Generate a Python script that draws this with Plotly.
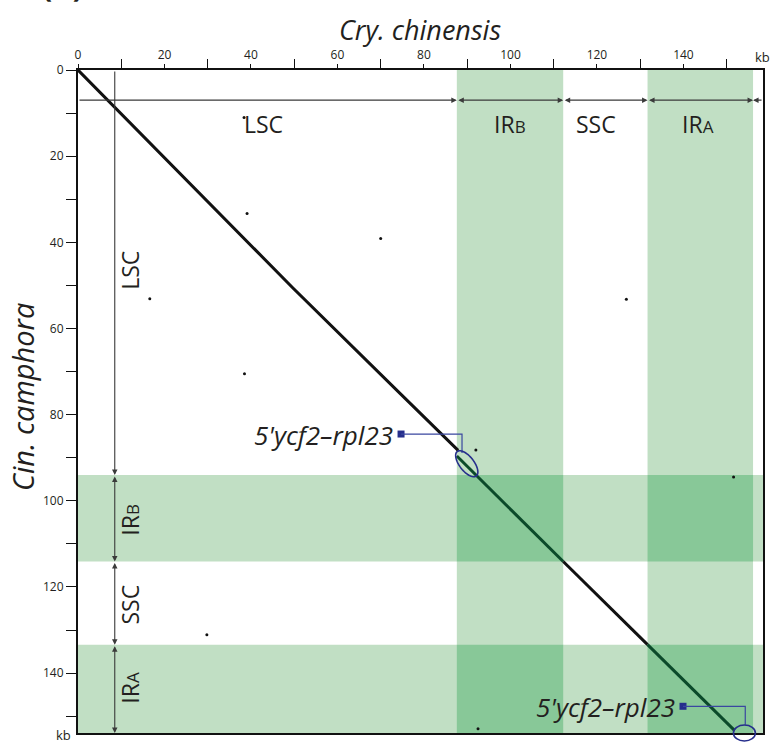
import numpy as np
import plotly.graph_objects as go

# ---------------- data ----------------
# region boundaries (kb)
x_region_names = ["LSC", "IRB", "SSC", "IRA"]
x_bounds = [0, 87.6, 112.2, 131.7, 156.1, 158.4]   # Cry. chinensis
y_region_names = ["LSC", "IRB", "SSC", "IRA"]
y_bounds = [0, 94.0, 114.1, 133.4, 153.9]          # Cin. camphora

# diagonal alignment segments (x kb, y kb) and their colours
seg1_x = [0, 49.7, 74.4, 87.9]
seg1_y = [0, 50.6, 75.0, 88.3]
seg2_x = [87.6, 112.2]
seg2_y = [89.6, 114.1]
seg3_x = [112.2, 131.7]
seg3_y = [114.1, 133.4]
seg4_x = [131.7, 151.8]
seg4_y = [133.4, 153.3]

# isolated dots
dot_x = [38.4, 39.1, 70.0, 16.6, 38.5, 126.8, 92.0, 151.6, 29.8, 92.5]
dot_y = [11.0, 33.3, 39.1, 53.1, 70.5, 53.2, 88.2, 94.5, 131.1, 152.9]

# annotation ("5'ycf2–rpl23") markers and targets
ann_text = ["5'ycf2–rpl23", "5'ycf2–rpl23"]
ann_sq_x = [74.7, 139.9]
ann_sq_y = [84.5, 147.7]
ann_elbow_x = [88.8, 154.3]
ann_elbow_y = [88.9, 152.0]
ann_ell_x = [89.9, 154.1]
ann_ell_y = [91.4, 153.9]

x_ticks = [0, 20, 40, 60, 80, 100, 120, 140]
x_minor = [10, 30, 50, 70, 90, 110, 130, 150]
y_ticks = [0, 20, 40, 60, 80, 100, 120, 140]
y_minor = [10, 30, 50, 70, 90, 110, 130, 150]

# ---------------- layout geometry ----------------
W, H = 770, 746
L, R, T, B = 78, 7, 70, 13
PW, PH = W - L - R, H - T - B
XMAX, YMAX = x_bounds[-1], y_bounds[-1]

def px2paper(px, py):
    return (px - L) / PW, (H - B - py) / PH

def kb2px(x, y):
    return L + x / XMAX * PW, T + y / YMAX * PH

TXT = "#231f20"
FONT = "Open Sans"
LIGHT = "#c1dfc4"
DARK = "#88c898"
LGREEN = "#0b4a2a"
NAVY = "#262e8c"

fig = go.Figure()

# ---------- background shading ----------
shapes = []
ir_x = [(x_bounds[1], x_bounds[2]), (x_bounds[3], x_bounds[4])]
ir_y = [(y_bounds[1], y_bounds[2]), (y_bounds[3], y_bounds[4])]
for x0, x1 in ir_x:
    shapes.append(dict(type="rect", xref="x", yref="y", x0=x0, x1=x1, y0=0, y1=YMAX,
                       fillcolor=LIGHT, line_width=0, layer="below"))
for y0, y1 in ir_y:
    shapes.append(dict(type="rect", xref="x", yref="y", x0=0, x1=XMAX, y0=y0, y1=y1,
                       fillcolor=LIGHT, line_width=0, layer="below"))
for x0, x1 in ir_x:
    for y0, y1 in ir_y:
        shapes.append(dict(type="rect", xref="x", yref="y", x0=x0, x1=x1, y0=y0, y1=y1,
                           fillcolor=DARK, line_width=0, layer="below"))

# ---------- diagonal ----------
for sx, sy, col in [(seg1_x, seg1_y, "#111111"), (seg2_x, seg2_y, LGREEN),
                    (seg3_x, seg3_y, "#111111"), (seg4_x, seg4_y, LGREEN)]:
    fig.add_trace(go.Scatter(x=sx, y=sy, mode="lines", line=dict(color=col, width=3),
                             hoverinfo="skip", showlegend=False))

fig.add_trace(go.Scatter(x=dot_x, y=dot_y, mode="markers",
                         marker=dict(color="#111111", size=3), showlegend=False,
                         hoverinfo="skip"))

# ---------- callouts ----------
fig.add_trace(go.Scatter(x=ann_sq_x, y=ann_sq_y, mode="markers",
                         marker=dict(symbol="square", color=NAVY, size=7),
                         showlegend=False, hoverinfo="skip"))
annotations = []
for i in range(2):
    shapes.append(dict(type="path", xref="x", yref="y",
                       path=f"M {ann_sq_x[i]} {ann_sq_y[i]} L {ann_elbow_x[i]} {ann_sq_y[i]} L {ann_elbow_x[i]} {ann_elbow_y[i]}",
                       line=dict(color="#3a47a0", width=1.2)))
    annotations.append(dict(x=ann_sq_x[i], y=ann_sq_y[i], xref="x", yref="y",
                            text=f"<i>{ann_text[i]}</i>", showarrow=False,
                            xanchor="right", yanchor="middle", xshift=-6, yshift=-1,
                            font=dict(family=FONT, size=26, color=TXT)))

# ellipse 1: tilted
cx, cy = kb2px(ann_ell_x[0], ann_ell_y[0])
t = np.linspace(0, 2 * np.pi, 61)
ang = np.deg2rad(52)
a, b = 15.5, 7.2
ex = cx + a * np.cos(t) * np.cos(ang) - b * np.sin(t) * np.sin(ang)
ey = cy + a * np.cos(t) * np.sin(ang) + b * np.sin(t) * np.cos(ang)
pts = [px2paper(x, y) for x, y in zip(ex, ey)]
path = "M " + " L ".join(f"{p[0]:.5f} {p[1]:.5f}" for p in pts) + " Z"
shapes.append(dict(type="path", xref="paper", yref="paper", path=path,
                   line=dict(color=NAVY, width=1.6)))
# ellipse 2: horizontal (extends below plot)
cx2, cy2 = kb2px(ann_ell_x[1], ann_ell_y[1])
p0 = px2paper(cx2 - 11, cy2 - 8)
p1 = px2paper(cx2 + 11, cy2 + 8)
shapes.append(dict(type="circle", xref="paper", yref="paper",
                   x0=p0[0], x1=p1[0], y0=p1[1], y1=p0[1],
                   line=dict(color=NAVY, width=1.6)))

# ---------- region arrows ----------
ARROW = "#3a3a3a"
arrow_y = 7.0
arrow_x = 8.5
for i in range(len(x_bounds) - 1):
    x0, x1 = x_bounds[i], x_bounds[i + 1]
    if i == 0:
        annotations.append(dict(x=x1, y=arrow_y, ax=x0, ay=arrow_y, xref="x", yref="y",
                                axref="x", ayref="y", text="", showarrow=True,
                                arrowhead=2, arrowsize=1, arrowwidth=1.1,
                                arrowcolor=ARROW, arrowside="end"))
    elif i == len(x_bounds) - 2:
        annotations.append(dict(x=x0, y=arrow_y, ax=x1, ay=arrow_y, xref="x", yref="y",
                                axref="x", ayref="y", text="", showarrow=True,
                                arrowhead=2, arrowsize=1, arrowwidth=1.1,
                                arrowcolor=ARROW, arrowside="end"))
    else:
        annotations.append(dict(x=x1, y=arrow_y, ax=x0, ay=arrow_y, xref="x", yref="y",
                                axref="x", ayref="y", text="", showarrow=True,
                                arrowhead=2, arrowsize=1, arrowwidth=1.1,
                                arrowcolor=ARROW, arrowside="end+start"))
for i in range(len(y_bounds) - 1):
    y0, y1 = y_bounds[i], y_bounds[i + 1]
    annotations.append(dict(x=arrow_x, y=y1, ax=arrow_x, ay=y0, xref="x", yref="y",
                            axref="x", ayref="y", text="", showarrow=True,
                            arrowhead=2, arrowsize=1, arrowwidth=1.1,
                            arrowcolor=ARROW, arrowside="end" if i == 0 else "end+start"))

# region labels
def lbl(name):
    if name.startswith("IR"):
        return f"IR<span style='font-size:17px'>{name[2]}</span>"
    return name

x_lab_pos = [43.0, 99.8, 119.7, 143.3]
for name, xp in zip(x_region_names, x_lab_pos):
    annotations.append(dict(x=xp, y=12.6, xref="x", yref="y", text=lbl(name),
                            showarrow=False, font=dict(family=FONT, size=23, color=TXT)))
y_lab_pos = [46.4, 104.4, 124.1, 143.4]
for name, yp in zip(y_region_names, y_lab_pos):
    annotations.append(dict(x=12.0, y=yp, xref="x", yref="y", text=lbl(name), textangle=-90,
                            showarrow=False, font=dict(family=FONT, size=23, color=TXT)))

# axis titles and kb labels
def paper_text(px, py, text, size, angle=0, yanchor="middle"):
    xp, yp = px2paper(px, py)
    annotations.append(dict(x=xp, y=yp, xref="paper", yref="paper", text=text,
                            textangle=angle, xanchor="center", yanchor=yanchor,
                            showarrow=False, font=dict(family=FONT, size=size, color=TXT)))

paper_text(420, 29, "<i>Cry. chinensis</i>", 27)
paper_text(22, 397, "<i>Cin. camphora</i>", 29, angle=-90)
paper_text(762, 57, "kb", 13)
paper_text(63, 735, "kb", 13)
paper_text(62, 8, "<b>(A)</b>", 30, yanchor="bottom")

axis_common = dict(showgrid=False, zeroline=False, showline=True, mirror=True,
                   linewidth=2, linecolor="#111111", ticks="outside",
                   tickcolor="#111111", tickwidth=1,
                   tickfont=dict(family=FONT, size=12, color=TXT))

fig.update_layout(
    width=W, height=H,
    margin=dict(l=L, r=R, t=T, b=B),
    plot_bgcolor="white", paper_bgcolor="white",
    shapes=shapes, annotations=annotations,
    xaxis=dict(range=[0, XMAX], side="top", tickvals=x_ticks, ticklen=4, automargin=False,
               minor=dict(tickvals=x_minor, ticks="outside", ticklen=9, tickcolor="#111111"),
               **axis_common),
    yaxis=dict(range=[YMAX, 0], tickvals=y_ticks, ticklen=10, automargin=False,
               minor=dict(tickvals=y_minor, ticks="outside", ticklen=10, tickcolor="#111111"),
               **axis_common),
    showlegend=False,
)

fig.write_html("out.html", config={"displayModeBar": False},
               post_script="document.body.style.margin='0';document.body.style.padding='0';")
